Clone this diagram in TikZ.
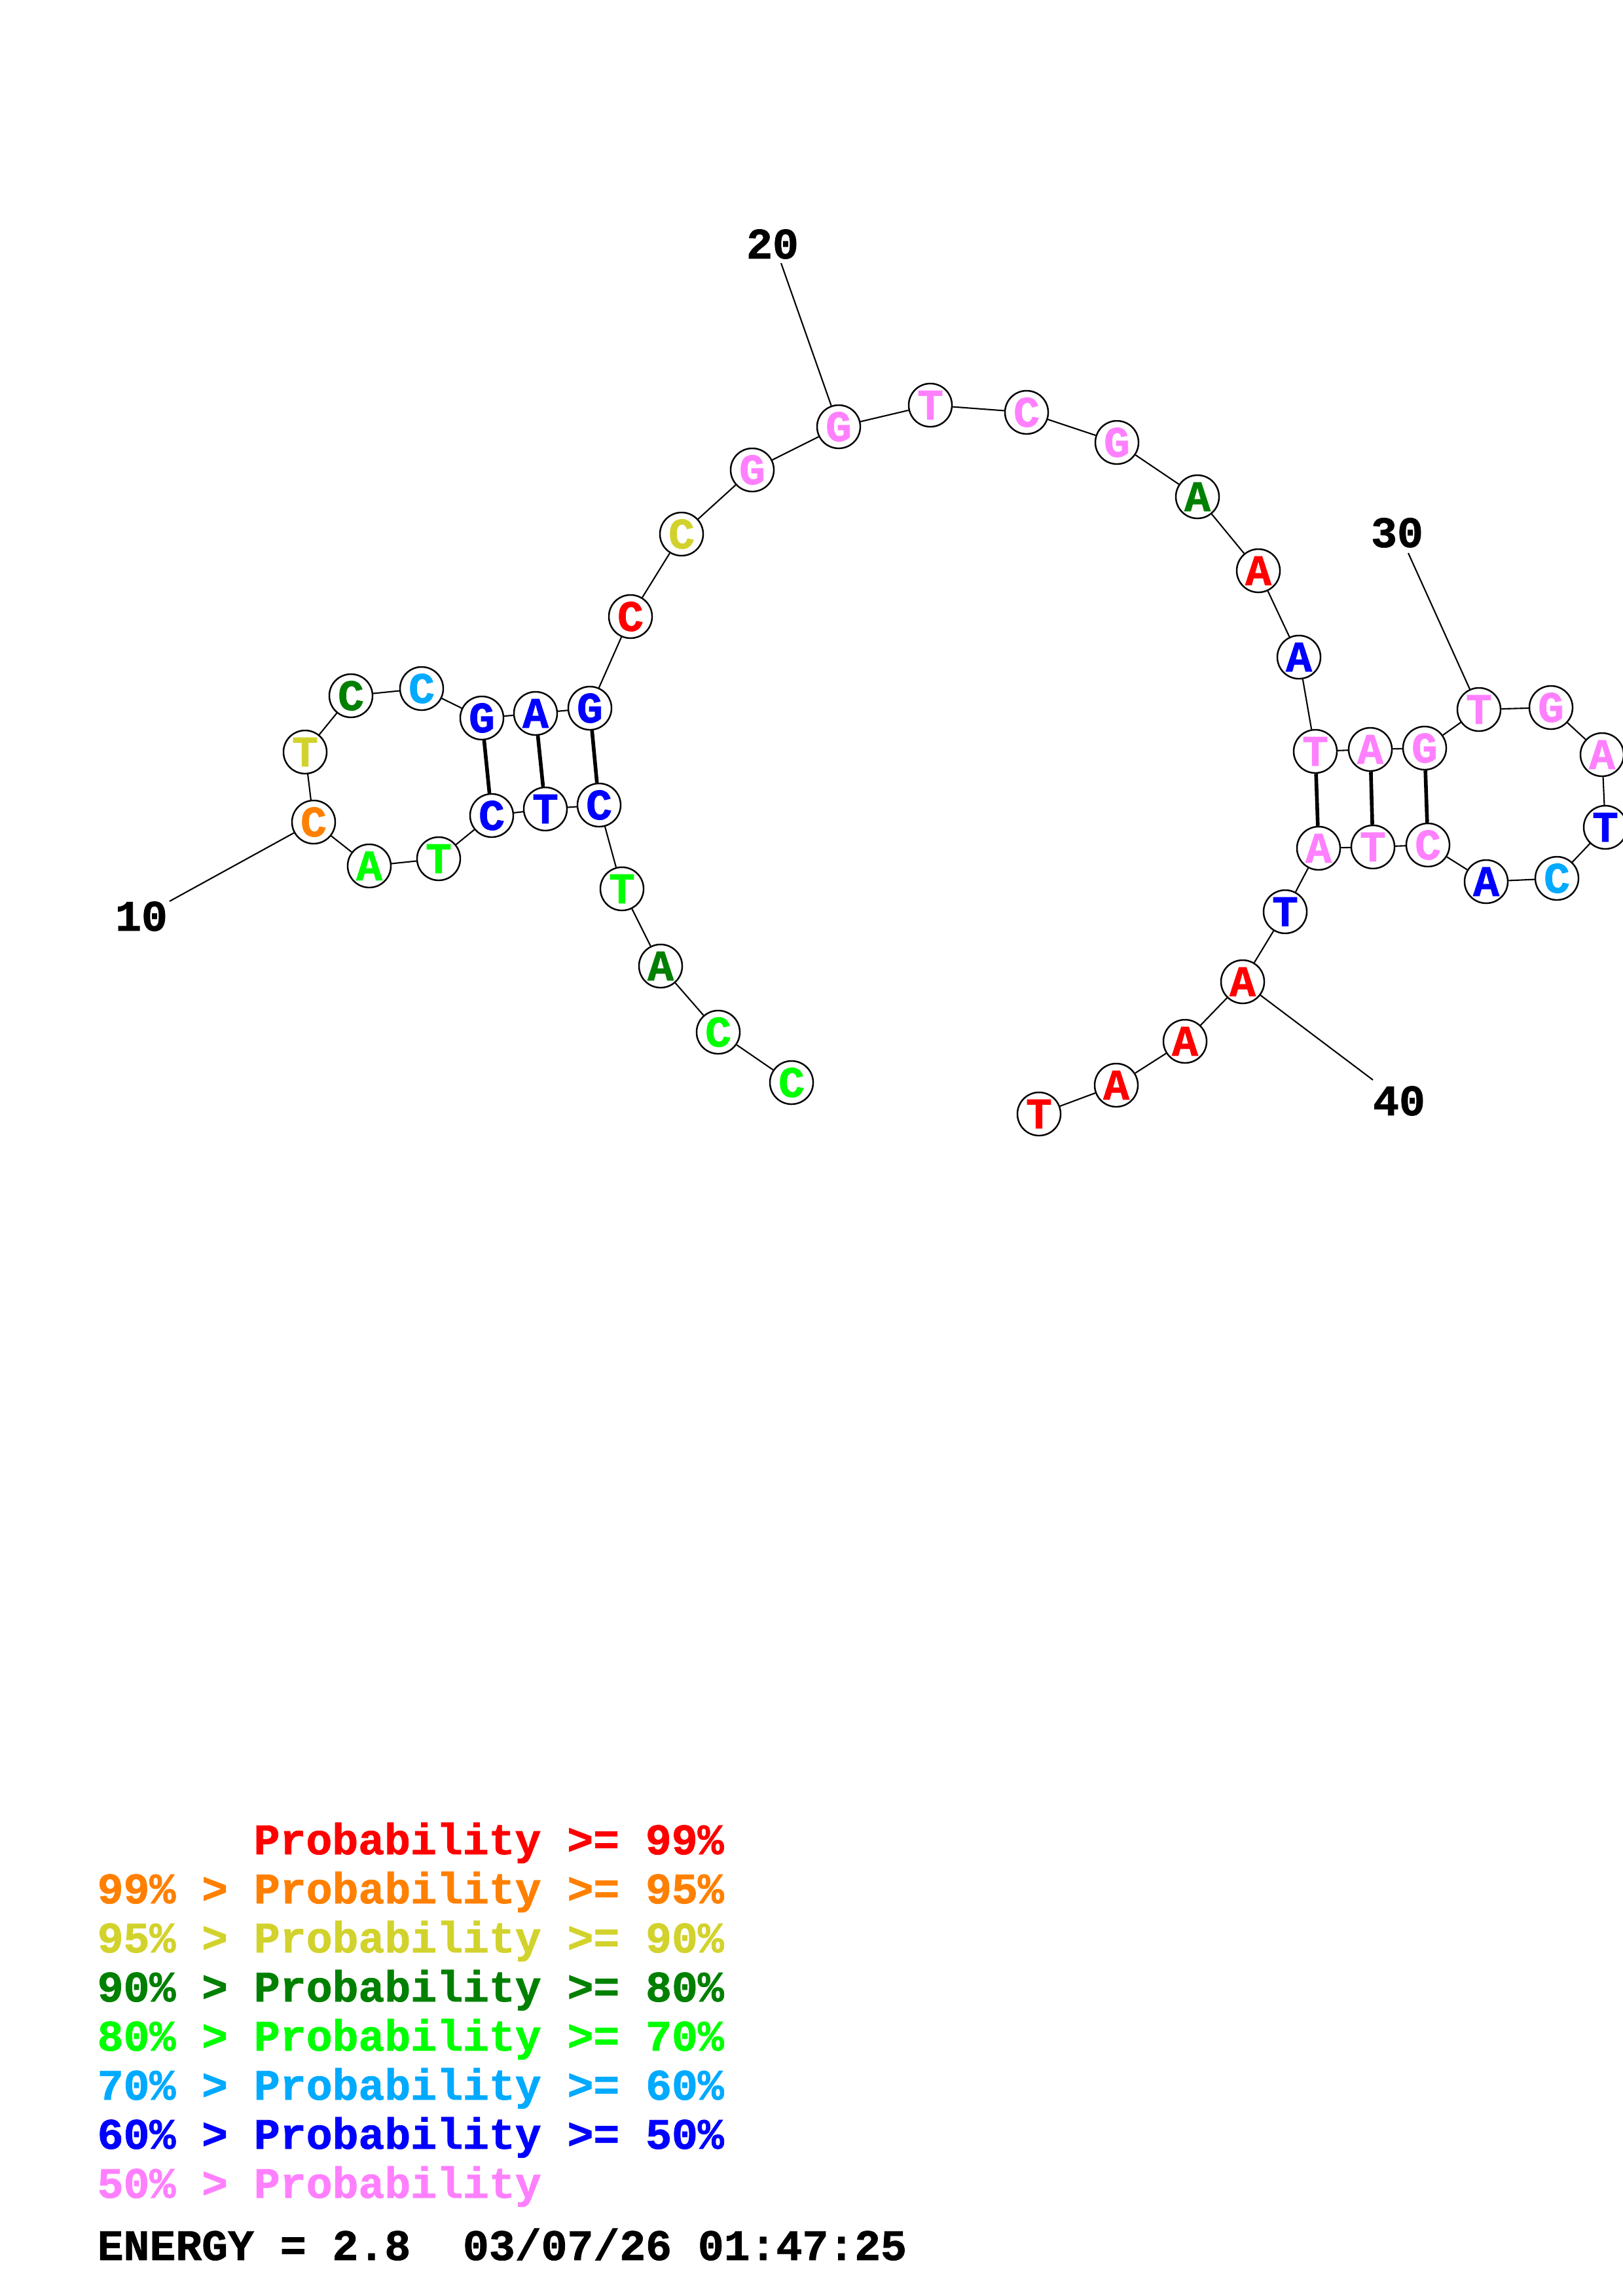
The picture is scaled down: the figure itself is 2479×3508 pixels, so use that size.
\documentclass[tikz,border=0pt]{standalone}
\usepackage{fontspec}
\newfontfamily\rnamono{Liberation Mono Bold}[FakeBold=1.2]
\definecolor{prRed}{HTML}{FF0000}
\definecolor{prOrange}{HTML}{FF8000}
\definecolor{prYellow}{HTML}{D2D22D}
\definecolor{prDGreen}{HTML}{008000}
\definecolor{prGreen}{HTML}{00FF00}
\definecolor{prLBlue}{HTML}{00AAFF}
\definecolor{prBlue}{HTML}{0000FF}
\definecolor{prPink}{HTML}{FF80FF}
\newcommand{\ntfont}{\rnamono\fontsize{18.9}{18.9}\selectfont}
\begin{document}
\begin{tikzpicture}[x=0.01cm,y=-0.01cm,
  nt/.style={circle,draw=black,line width=0.7pt,fill=white,minimum size=0.66cm,inner sep=0pt,font=\ntfont},
  bb/.style={line width=0.6pt},
  bp/.style={line width=1.6pt},
  lbl/.style={inner sep=0pt,font=\ntfont},
  leg/.style={anchor=base west,inner sep=0pt,font=\ntfont}]
\useasboundingbox (0,0) rectangle (2479,3508);
% nucleotides
\node[nt,text=prGreen]  (n1)  at (1209,1654) {C};
\node[nt,text=prGreen]  (n2)  at (1097,1577) {C};
\node[nt,text=prDGreen] (n3)  at (1009,1476) {A};
\node[nt,text=prGreen]  (n4)  at (950,1358) {T};
\node[nt,text=prBlue]   (n5)  at (915,1230) {C};
\node[nt,text=prBlue]   (n6)  at (833,1236) {T};
\node[nt,text=prBlue]   (n7)  at (751,1246) {C};
\node[nt,text=prGreen]  (n8)  at (670,1312) {T};
\node[nt,text=prGreen]  (n9)  at (564,1323) {A};
\node[nt,text=prOrange] (n10) at (479,1256) {C};
\node[nt,text=prYellow] (n11) at (466,1149) {T};
\node[nt,text=prDGreen] (n12) at (536,1063) {C};
\node[nt,text=prLBlue]  (n13) at (644,1052) {C};
\node[nt,text=prBlue]   (n14) at (736,1097) {G};
\node[nt,text=prBlue]   (n15) at (818,1090) {A};
\node[nt,text=prBlue]   (n16) at (901,1082) {G};
\node[nt,text=prRed]    (n17) at (963,942) {C};
\node[nt,text=prYellow] (n18) at (1041,816) {C};
\node[nt,text=prPink]   (n19) at (1149,718) {G};
\node[nt,text=prPink]   (n20) at (1281,652) {G};
\node[nt,text=prPink]   (n21) at (1421,619) {T};
\node[nt,text=prPink]   (n22) at (1568,630) {C};
\node[nt,text=prPink]   (n23) at (1706,676) {G};
\node[nt,text=prDGreen] (n24) at (1829,759) {A};
\node[nt,text=prRed]    (n25) at (1922,872) {A};
\node[nt,text=prBlue]   (n26) at (1984,1004) {A};
\node[nt,text=prPink]   (n27) at (2009,1148) {T};
\node[nt,text=prPink]   (n28) at (2093,1145) {A};
\node[nt,text=prPink]   (n29) at (2176,1143) {G};
\node[nt,text=prPink]   (n30) at (2259,1084) {T};
\node[nt,text=prPink]   (n31) at (2369,1081) {G};
\node[nt,text=prPink]   (n32) at (2447,1153) {A};
\node[nt,text=prBlue]   (n33) at (2452,1264) {T};
\node[nt,text=prLBlue]  (n34) at (2378,1342) {C};
\node[nt,text=prBlue]   (n35) at (2270,1347) {A};
\node[nt,text=prPink]   (n36) at (2181,1291) {C};
\node[nt,text=prPink]   (n37) at (2097,1294) {T};
\node[nt,text=prPink]   (n38) at (2014,1296) {A};
\node[nt,text=prBlue]   (n39) at (1963,1393) {T};
\node[nt,text=prRed]    (n40) at (1898,1500) {A};
\node[nt,text=prRed]    (n41) at (1810,1591) {A};
\node[nt,text=prRed]    (n42) at (1705,1658) {A};
\node[nt,text=prRed]    (n43) at (1587,1702) {T};
% backbone
\foreach \a/\b in {1/2,2/3,3/4,4/5,5/6,6/7,7/8,8/9,9/10,10/11,11/12,12/13,13/14,14/15,15/16,16/17,17/18,18/19,19/20,20/21,21/22,22/23,23/24,24/25,25/26,26/27,27/28,28/29,29/30,30/31,31/32,32/33,33/34,34/35,35/36,36/37,37/38,38/39,39/40,40/41,41/42,42/43}
  \draw[bb] (n\a) -- (n\b);
% base pairs
\foreach \a/\b in {5/16,6/15,7/14,27/38,28/37,29/36}
  \draw[bp] (n\a) -- (n\b);
% numbering labels
\node[lbl] (l10) at (216,1400) {10};
\node[lbl] (l20) at (1180,373) {20};
\node[lbl] (l30) at (2134,814) {30};
\node[lbl] (l40) at (2137,1682) {40};
\coordinate (c10) at (259,1377);
\coordinate (c20) at (1193,402);
\coordinate (c30) at (2151,845);
\coordinate (c40) at (2097,1650);
\draw[bb] (c10) -- (n10);
\draw[bb] (c20) -- (n20);
\draw[bb] (c30) -- (n30);
\draw[bb] (c40) -- (n40);
% legend
\node[leg,text=prRed]    (g1) at (387,2833) {Probability >= 99\%};
\node[leg,text=prOrange] (g2) at (148,2908) {99\% > Probability >= 95\%};
\node[leg,text=prYellow] (g3) at (148,2983) {95\% > Probability >= 90\%};
\node[leg,text=prDGreen] (g4) at (148,3058) {90\% > Probability >= 80\%};
\node[leg,text=prGreen]  (g5) at (148,3133) {80\% > Probability >= 70\%};
\node[leg,text=prLBlue]  (g6) at (148,3208) {70\% > Probability >= 60\%};
\node[leg,text=prBlue]   (g7) at (148,3283) {60\% > Probability >= 50\%};
\node[leg,text=prPink]   (g8) at (148,3358) {50\% > Probability};
\node[leg,text=black]    (en) at (148,3453) {ENERGY = 2.8~~03/07/26 01:47:25};
\end{tikzpicture}
\end{document}
